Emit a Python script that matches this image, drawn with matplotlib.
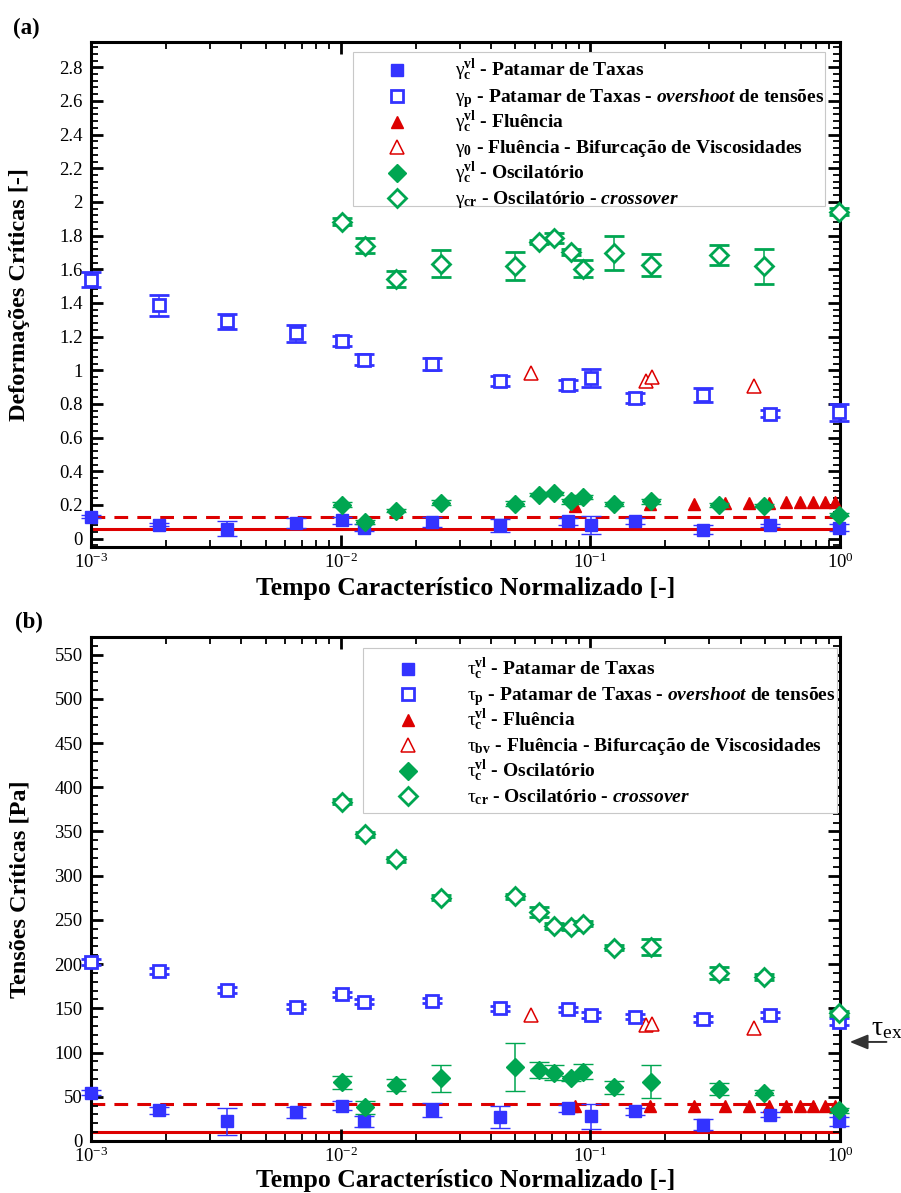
import matplotlib
matplotlib.use("Agg")
import matplotlib.pyplot as plt
from matplotlib.ticker import (MultipleLocator, LogLocator, NullFormatter,
                               FormatStrFormatter, LogFormatterSciNotation)
from matplotlib.patches import Rectangle

plt.rcParams.update({
    "font.family": ["Liberation Serif", "DejaVu Serif"],
    "mathtext.fontset": "custom",
    "mathtext.rm": "Liberation Serif",
    "mathtext.it": "Liberation Serif:italic:bold",
    "mathtext.bf": "Liberation Serif:bold",
})

# ---------------------------------------------------------------------------
# Normalised characteristic time of each test protocol
t_rate = [1.0e-3, 1.88e-3, 3.52e-3, 6.6e-3, 1.01e-2, 1.24e-2, 2.32e-2,
          4.34e-2, 8.13e-2, 0.1005, 0.151, 0.282, 0.524, 0.99]
t_osc = [0.0101, 0.01247, 0.0166, 0.0252, 0.0498, 0.0622, 0.0714,
         0.0836, 0.0933, 0.124, 0.175, 0.327, 0.495, 0.99]
t_creep = [0.0867, 0.173, 0.260, 0.346, 0.433, 0.520, 0.607, 0.693,
           0.780, 0.867, 0.953]
t_bif = [0.0581, 0.1667, 0.1774, 0.454]

# (a) critical strains [-]
gam_c_rate = [0.131, 0.082, 0.059, 0.092, 0.108, 0.065, 0.098, 0.078,
              0.102, 0.082, 0.104, 0.053, 0.078, 0.065]
gam_c_rate_err = [0.01, 0.01, 0.044, 0.03, 0.02, 0.02, 0.03, 0.04,
                  0.02, 0.054, 0.02, 0.027, 0.01, 0.02]
gam_p = [1.539, 1.386, 1.290, 1.219, 1.174, 1.062, 1.037, 0.937,
         0.912, 0.955, 0.833, 0.853, 0.741, 0.749]
gam_p_err = [0.045, 0.062, 0.047, 0.05, 0.032, 0.032, 0.038, 0.031,
             0.028, 0.052, 0.03, 0.04, 0.02, 0.052]
gam_c_creep = [0.196, 0.206, 0.206, 0.209, 0.212, 0.212, 0.215, 0.215,
               0.215, 0.215, 0.215]
gam_0 = [0.986, 0.937, 0.961, 0.908]
gam_c_osc = [0.202, 0.098, 0.166, 0.212, 0.206, 0.261, 0.268, 0.221,
             0.245, 0.206, 0.221, 0.200, 0.196, 0.143]
gam_c_osc_err = [0.015, 0.012, 0.01, 0.015, 0.015, 0.01, 0.01, 0.015,
                 0.012, 0.012, 0.015, 0.01, 0.01, 0.01]
gam_cr = [1.882, 1.741, 1.543, 1.633, 1.618, 1.761, 1.788, 1.702,
          1.604, 1.696, 1.624, 1.686, 1.618, 1.941]
gam_cr_err = [0.02, 0.042, 0.049, 0.079, 0.082, 0.01, 0.03, 0.017,
              0.049, 0.1, 0.066, 0.059, 0.103, 0.02]
gam_upper = 0.131
gam_lower = 0.055

# (b) critical stresses [Pa]
tau_c_rate = [54.8, 34.5, 22.1, 32.3, 40.1, 22.1, 35.3, 27.1, 37.2,
              27.7, 33.4, 18.4, 29.7, 22.1]
tau_c_rate_err = [3, 4, 15, 6, 5, 6, 8, 12, 4, 14, 4, 6, 3, 5]
tau_p = [202.5, 192.1, 170.6, 151.8, 165.8, 157.4, 158.6, 150.0, 148.9,
         142.4, 140.5, 137.9, 142.4, 134.9]
tau_p_err = [3, 3, 3, 3, 3, 3, 3, 3, 3, 3, 3, 3, 3, 4]
tau_c_creep = [39.0, 39.2, 39.2, 39.4, 39.4, 39.6, 39.6, 39.8, 39.8,
               39.8, 39.8]
tau_bv = [142.4, 131.2, 132.3, 127.4]
tau_c_osc = [66.5, 37.9, 63.5, 71.0, 83.5, 80.4, 77.4, 71.0, 78.5, 60.9,
             67.2, 58.6, 54.8, 34.5]
tau_c_osc_err = [7.3, 7.5, 7, 15.4, 27, 9, 8.7, 3, 8.7, 7.3, 19, 6.8, 3, 3]
tau_cr = [383.8, 346.6, 318.7, 275.2, 276.6, 258.9, 243.2, 242.0, 245.8,
          218.8, 219.5, 190.1, 185.6, 144.3]
tau_cr_err = [3, 3, 3, 3, 3, 6, 3, 3, 3, 3, 9.4, 6.6, 3, 3]
tau_upper = 42.1
tau_lower = 10.1
tau_ex = 112.0

BLUE = "#3333ff"
RED = "#dd0000"
GREEN = "#00a651"

xlabel = "Tempo Característico Normalizado [-]"

# ---------------------------------------------------------------------------
fig = plt.figure(figsize=(9.01, 11.93), dpi=100)
ax_a = fig.add_axes([0.101, 0.5415, 0.8313, 0.4233])
ax_b = fig.add_axes([0.101, 0.0436, 0.8313, 0.4225])

sq_f = dict(marker="s", ms=8.6, mfc=BLUE, mec=BLUE, mew=1.0)
sq_o = dict(marker="s", ms=8.6, mfc="white", mec=BLUE, mew=2.0)
tri_f = dict(marker="^", ms=9.2, mfc=RED, mec=RED, mew=1.0)
tri_o = dict(marker="^", ms=9.4, mfc="white", mec=RED, mew=1.1)
dia_f = dict(marker="D", ms=9.3, mfc=GREEN, mec=GREEN, mew=1.0)
dia_o = dict(marker="D", ms=9.3, mfc="white", mec=GREEN, mew=2.0)

err_kw = dict(linestyle="none", elinewidth=1.1, capsize=7.5, capthick=1.1)


def series(ax, x, y, err, color, style, z):
    """Markers with vertical error bars, allowed to overhang the frame."""
    cont = ax.errorbar(x, y, yerr=err, ecolor=color, zorder=z,
                       **style, **err_kw)
    for art in cont.get_children():
        art.set_clip_on(False)


def panel(ax, rate_c, rate_c_e, rate_p, rate_p_e, creep_c, bif,
          osc_c, osc_c_e, osc_cr, osc_cr_e, upper, lower, xlab_y):
    ax.axhline(lower, color=RED, lw=2.2, zorder=1.5)
    ax.axhline(upper, color=RED, lw=2.2, ls=(0, (4.5, 3.0)), zorder=1.5)
    series(ax, t_rate, rate_p, rate_p_e, BLUE, sq_o, 3)
    series(ax, t_rate, rate_c, rate_c_e, BLUE, sq_f, 3)
    ax.plot(t_bif, bif, linestyle="none", zorder=3, clip_on=False, **tri_o)
    ax.plot(t_creep, creep_c, linestyle="none", zorder=3, clip_on=False,
            **tri_f)
    series(ax, t_osc, osc_cr, osc_cr_e, GREEN, dia_o, 3.2)
    series(ax, t_osc, osc_c, osc_c_e, GREEN, dia_f, 3.2)

    ax.set_xscale("log")
    ax.set_xlim(1e-3, 1.0)
    ax.xaxis.set_major_locator(LogLocator(base=10, numticks=10))
    ax.xaxis.set_minor_locator(LogLocator(base=10, subs=range(2, 10),
                                          numticks=30))
    ax.xaxis.set_major_formatter(LogFormatterSciNotation())
    ax.xaxis.set_minor_formatter(NullFormatter())
    for s in ax.spines.values():
        s.set_linewidth(2.2)
    ax.tick_params(which="both", direction="in", top=True, right=True,
                   labelsize=13.5)
    ax.tick_params(which="major", length=8.6, width=2.0)
    ax.tick_params(which="minor", length=5.0, width=1.3)
    ax.tick_params(axis="y", which="major", pad=6)
    ax.tick_params(axis="x", which="major", pad=4)
    ax.set_xlabel(xlabel, fontsize=18.5, fontweight="bold")
    ax.xaxis.label.set_va("center")
    ax.xaxis.set_label_coords(0.5, xlab_y)


def key(ax, box, mx, tx, rows, entries, fs=14):
    x0, y0, x1, y1 = box
    ax.add_patch(Rectangle((x0, y0), x1 - x0, y1 - y0,
                           transform=ax.transAxes, facecolor="white",
                           edgecolor="#c8c8c8", lw=0.8, zorder=4,
                           clip_on=False))
    for y, (style, label) in zip(rows, entries):
        ax.plot([mx], [y], transform=ax.transAxes, linestyle="none",
                clip_on=False, zorder=5, **style)
        ax.text(tx, y - 0.012, label, transform=ax.transAxes, fontsize=fs,
                fontweight="bold", ha="left", va="baseline", zorder=5)


# ---- (a) critical strains --------------------------------------------------
panel(ax_a, gam_c_rate, gam_c_rate_err, gam_p, gam_p_err, gam_c_creep,
      gam_0, gam_c_osc, gam_c_osc_err, gam_cr, gam_cr_err,
      gam_upper, gam_lower, -0.082)
ax_a.set_ylim(-0.05, 2.95)
ax_a.yaxis.set_major_locator(MultipleLocator(0.2))
ax_a.yaxis.set_minor_locator(MultipleLocator(0.04))
ax_a.yaxis.set_major_formatter(FormatStrFormatter("%g"))
ax_a.set_ylabel("Deformações Críticas [-]", fontsize=17.5,
                fontweight="bold")
ax_a.yaxis.label.set_va("center")
ax_a.yaxis.set_label_coords(-0.095, 0.5)

g = r"\mathrm{\gamma}"
key(ax_a, (0.35, 0.675, 0.98, 0.980), 0.4086, 0.486,
    [0.9446, 0.893, 0.8416, 0.792, 0.7406, 0.691],
    [(sq_f, rf"${g}_{{\mathbf{{c}}}}^{{\mathbf{{vl}}}}$ - Patamar de Taxas"),
     (sq_o, rf"${g}_{{\mathbf{{p}}}}$ - Patamar de Taxas - $\mathit{{overshoot}}$ de tensões"),
     (tri_f, rf"${g}_{{\mathbf{{c}}}}^{{\mathbf{{vl}}}}$ - Fluência"),
     (tri_o, rf"${g}_{{\mathbf{{0}}}}$ - Fluência - Bifurcação de Viscosidades"),
     (dia_f, rf"${g}_{{\mathbf{{c}}}}^{{\mathbf{{vl}}}}$ - Oscilatório"),
     (dia_o, rf"${g}_{{\mathbf{{cr}}}}$ - Oscilatório - $\mathit{{crossover}}$")])

# ---- (b) critical stresses -------------------------------------------------
panel(ax_b, tau_c_rate, tau_c_rate_err, tau_p, tau_p_err, tau_c_creep,
      tau_bv, tau_c_osc, tau_c_osc_err, tau_cr, tau_cr_err,
      tau_upper, tau_lower, -0.078)
ax_b.set_ylim(0, 570)
ax_b.yaxis.set_major_locator(MultipleLocator(50))
ax_b.yaxis.set_minor_locator(MultipleLocator(10))
ax_b.yaxis.set_major_formatter(FormatStrFormatter("%g"))
ax_b.set_ylabel("Tensões Críticas [Pa]", fontsize=17.5, fontweight="bold")
ax_b.yaxis.label.set_va("center")
ax_b.yaxis.set_label_coords(-0.095, 0.5)

t = r"\mathrm{\tau}"
key(ax_b, (0.363, 0.651, 0.996, 0.978), 0.423, 0.5016,
    [0.9365, 0.8869, 0.8353, 0.7857, 0.7341, 0.6845],
    [(sq_f, rf"${t}_{{\mathbf{{c}}}}^{{\mathbf{{vl}}}}$ - Patamar de Taxas"),
     (sq_o, rf"${t}_{{\mathbf{{p}}}}$ - Patamar de Taxas - $\mathit{{overshoot}}$ de tensões"),
     (tri_f, rf"${t}_{{\mathbf{{c}}}}^{{\mathbf{{vl}}}}$ - Fluência"),
     (tri_o, rf"${t}_{{\mathbf{{bv}}}}$ - Fluência - Bifurcação de Viscosidades"),
     (dia_f, rf"${t}_{{\mathbf{{c}}}}^{{\mathbf{{vl}}}}$ - Oscilatório"),
     (dia_o, rf"${t}_{{\mathbf{{cr}}}}$ - Oscilatório - $\mathit{{crossover}}$")])

# yield-stress marker on the right of the stress axis
ax_b.annotate("", xy=(1.013, tau_ex), xycoords=("axes fraction", "data"),
              xytext=(1.062, tau_ex), textcoords=("axes fraction", "data"),
              arrowprops=dict(arrowstyle="-|>,head_length=1.1,head_width=0.45",
                              color="#333333", lw=1.4, shrinkA=0, shrinkB=0),
              annotation_clip=False)
ax_b.text(1.042, tau_ex + 8, rf"${t}_{{\mathrm{{ex}}}}$", fontsize=20,
          transform=ax_b.get_yaxis_transform(), ha="left", va="baseline",
          clip_on=False)

fig.text(0.0144, 0.9765, "(a)", fontsize=16.5, fontweight="bold",
         ha="left", va="center")
fig.text(0.017, 0.4786, "(b)", fontsize=16.5, fontweight="bold",
         ha="left", va="center")

fig.savefig("out.png", dpi=100)
